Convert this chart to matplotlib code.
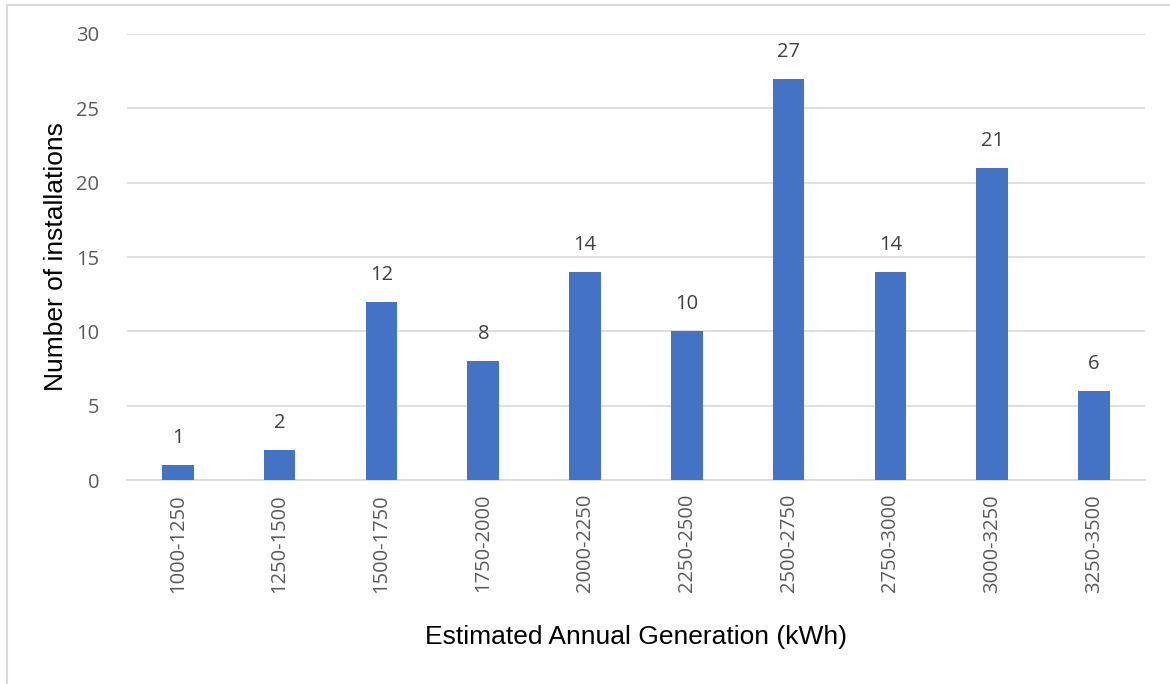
import matplotlib
matplotlib.use("Agg")
import matplotlib.pyplot as plt
from matplotlib.patches import Rectangle

# data
categories = ["1000-1250", "1250-1500", "1500-1750", "1750-2000", "2000-2250",
              "2250-2500", "2500-2750", "2750-3000", "3000-3250", "3250-3500"]
counts = [1, 2, 12, 8, 14, 10, 27, 14, 21, 6]
y_ticks = [0, 5, 10, 15, 20, 25, 30]

bar_color = "#4472C4"
grid_color = "#D9D9D9"
text_color = "#595959"

fig = plt.figure(figsize=(11.7, 6.84), dpi=100)
# outer chart border (light grey)
fig.patches.append(Rectangle((7 / 1170, -0.01), 1.02, 1 - 5 / 684 + 0.01, transform=fig.transFigure,
                             fill=False, edgecolor=grid_color, linewidth=1.5))

ax = fig.add_axes([0.1085, 0.2982, 0.8701, 0.6521])
x = range(len(categories))
bars = ax.bar(x, counts, width=0.31, color=bar_color, zorder=3)

for xi, v in zip(x, counts):
    ax.text(xi, v + 1.15, str(v), ha="center", va="bottom", fontsize=14.5,
            color="#404040", family="Open Sans")

ax.set_xlim(-0.5, len(categories) - 0.5)
ax.set_ylim(0, 30)
ax.set_yticks(y_ticks)
ax.set_xticks(list(x))
ax.set_xticklabels(categories, rotation=90, fontsize=14.5, color=text_color, family="Open Sans")
ax.set_yticklabels([str(t) for t in y_ticks], fontsize=14.5, color=text_color, family="Open Sans")
ax.yaxis.grid(True, color=grid_color, linewidth=1.2, zorder=0)
ax.tick_params(axis="x", length=0, pad=10)
ax.tick_params(axis="y", length=0, pad=20)
for side in ["top", "right", "left"]:
    ax.spines[side].set_visible(False)
ax.spines["bottom"].set_color(grid_color)
ax.spines["bottom"].set_linewidth(1.2)

ax.set_ylabel("Number of installations", fontsize=19, color="black", family="Liberation Sans")
ax.set_xlabel("Estimated Annual Generation (kWh)", fontsize=19, color="black", family="Liberation Sans")
ax.yaxis.set_label_coords(-0.058, 0.5)
ax.xaxis.set_label_coords(0.5, -0.325)

fig.savefig("out.png", dpi=100)
